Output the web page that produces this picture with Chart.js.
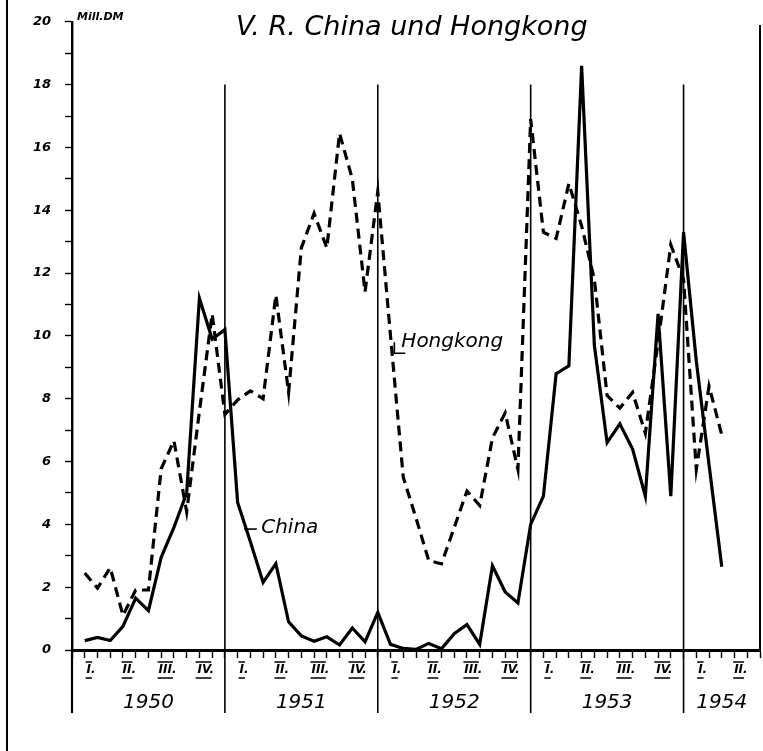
<!DOCTYPE html>
<html>
<head>
<meta charset="utf-8">
<script src="https://cdn.jsdelivr.net/npm/chart.js@4.4.0/dist/chart.umd.min.js"></script>
<style>
  html, body { margin: 0; padding: 0; background: #fff; }
  #wrap { width: 763px; height: 751px; position: relative; }
</style>
</head>
<body>
<div id="wrap"><canvas id="chart"></canvas></div>
<script>
/* ==========================
   DATA (Mill. DM, monthly, Jan 1950 - Mar 1954)
========================== */
const years = ["1950", "1951", "1952", "1953", "1954"];
const quarters = ["I", "II", "III", "IV"];
const yTickLabels = [0, 2, 4, 6, 8, 10, 12, 14, 16, 18, 20];

const chinaValues = [
  0.3, 0.4, 0.3, 0.75, 1.65, 1.25, 2.95, 3.9, 5.0, 11.2, 9.9, 10.2,
  4.7, 3.45, 2.15, 2.75, 0.9, 0.45, 0.28, 0.42, 0.16, 0.7, 0.26, 1.2,
  0.18, 0.05, 0.02, 0.21, 0.04, 0.52, 0.81, 0.18, 2.68, 1.85, 1.5, 4.0,
  4.9, 8.8, 9.05, 18.6, 9.7, 6.6, 7.2, 6.4, 4.9, 10.7, 4.9, 13.3,
  9.2, 5.9, 2.65
];

const hongkongValues = [
  2.45, 1.97, 2.62, 1.1, 1.91, 1.91, 5.77, 6.66, 4.4, 7.6, 10.7, 7.5,
  7.96, 8.25, 8.0, 11.3, 8.2, 12.8, 13.9, 12.8, 16.45, 15.0, 11.4, 14.6,
  10.0, 5.5, 4.2, 2.85, 2.74, 3.9, 5.06, 4.6, 6.75, 7.55, 5.75, 16.9,
  13.3, 13.1, 14.85, 13.5, 11.8, 8.1, 7.7, 8.2, 6.9, 9.8, 12.9, 11.8,
  5.75, 8.4, 6.85
];

const MONTHS_SHOWN = 54;
const FONT = "'DejaVu Sans', sans-serif";

/* ==========================
   DECORATION PLUGIN
========================== */
const decor = {
  id: "decor",
  beforeDatasetsDraw(chart) {
    const ctx = chart.ctx, x = chart.scales.x, y = chart.scales.y;
    const top = y.getPixelForValue(18), bottom = chart.chartArea.bottom + 63;

    /* year separators */
    ctx.save();
    ctx.strokeStyle = "#000";
    ctx.lineWidth = 1.6;
    for (let m = 12; m < MONTHS_SHOWN; m += 12) {
      const px = x.getPixelForValue(m);
      ctx.beginPath();
      ctx.moveTo(px, top);
      ctx.lineTo(px, bottom);
      ctx.stroke();
    }
    /* y axis continues below the x axis */
    ctx.lineWidth = 2.2;
    ctx.beginPath();
    ctx.moveTo(chart.chartArea.left, chart.chartArea.bottom);
    ctx.lineTo(chart.chartArea.left, bottom);
    ctx.stroke();
    ctx.restore();
  },
  afterDraw(chart) {
    const ctx = chart.ctx, x = chart.scales.x, y = chart.scales.y;
    const area = chart.chartArea;
    ctx.save();
    ctx.fillStyle = "#000";
    ctx.strokeStyle = "#000";

    /* page borders */
    ctx.lineWidth = 2;
    ctx.beginPath();
    ctx.moveTo(7, 0); ctx.lineTo(7, 751);
    ctx.moveTo(760, 25); ctx.lineTo(760, area.bottom);
    ctx.stroke();

    /* title + unit */
    ctx.textBaseline = "middle";
    ctx.textAlign = "left";
    ctx.font = "italic 27px " + FONT;
    ctx.fillText("V. R. China und Hongkong", 236, 28);
    ctx.font = "italic bold 11px " + FONT;
    ctx.fillText("Mill.DM", 77, 17);

    /* quarter labels */
    ctx.font = "italic bold 12px " + FONT;
    ctx.textAlign = "center";
    ctx.lineWidth = 1.4;
    years.forEach((yr, yi) => {
      quarters.forEach((q, qi) => {
        const mid = yi * 12 + qi * 3 + 1.5;
        if (mid > MONTHS_SHOWN) return;
        const cx = x.getPixelForValue(mid);
        const cy = area.bottom + 20;
        const w = ctx.measureText(q).width;
        ctx.fillText(q + ".", cx, cy);
        const dot = ctx.measureText(".").width;
        const l = cx - (w + dot) / 2 - 1, r = l + w + 2;
        ctx.beginPath();
        ctx.moveTo(l, cy - 8); ctx.lineTo(r, cy - 8);
        ctx.moveTo(l, cy + 8); ctx.lineTo(r, cy + 8);
        ctx.stroke();
      });
    });

    /* year labels */
    ctx.font = "italic 20px " + FONT;
    years.forEach((yr, yi) => {
      const from = yi * 12, to = Math.min(from + 12, MONTHS_SHOWN);
      ctx.fillText(yr, x.getPixelForValue((from + to) / 2), area.bottom + 53);
    });

    /* series labels */
    ctx.font = "italic 20px " + FONT;
    ctx.textAlign = "left";
    ctx.lineWidth = 1.6;
    const chY = y.getPixelForValue(3.85);
    ctx.beginPath();
    ctx.moveTo(x.getPixelForValue(13.5), chY);
    ctx.lineTo(x.getPixelForValue(14.5), chY);
    ctx.stroke();
    ctx.fillText("China", x.getPixelForValue(14.85), chY - 1);

    const hkY = y.getPixelForValue(9.8);
    const hkX = x.getPixelForValue(25.3);
    ctx.beginPath();
    ctx.moveTo(hkX, hkY);
    ctx.lineTo(hkX, hkY + 11);
    ctx.lineTo(hkX + 11, hkY + 11);
    ctx.stroke();
    ctx.fillText("Hongkong", hkX + 7, hkY);

    ctx.restore();
  }
};

/* ==========================
   CHART
========================== */
const toPoints = arr => arr.map((v, i) => ({ x: i + 1, y: v }));

new Chart(document.getElementById("chart"), {
  type: "line",
  data: {
    datasets: [
      {
        label: "China",
        data: toPoints(chinaValues),
        borderColor: "#000",
        borderWidth: 3.2,
        pointRadius: 0,
        tension: 0,
        borderJoinStyle: "miter"
      },
      {
        label: "Hongkong",
        data: toPoints(hongkongValues),
        borderColor: "#000",
        borderWidth: 3.2,
        borderDash: [10, 6],
        pointRadius: 0,
        tension: 0,
        borderJoinStyle: "miter"
      }
    ]
  },
  options: {
    responsive: true,
    maintainAspectRatio: false,
    devicePixelRatio: 1,
    animation: false,
    layout: { padding: { top: 18, right: 3, left: 0, bottom: 0 } },
    plugins: { legend: { display: false }, tooltip: { enabled: false } },
    scales: {
      x: {
        type: "linear",
        min: 0,
        max: MONTHS_SHOWN,
        afterFit: s => { s.height = 101; },
        ticks: { stepSize: 1, autoSkip: false, display: false },
        grid: { drawOnChartArea: false, drawTicks: true, tickLength: 8, tickColor: "#000", tickWidth: 1.4 },
        border: { display: true, color: "#000", width: 3 }
      },
      y: {
        min: 0,
        max: 20,
        afterFit: s => { s.width = 72; },
        ticks: {
          stepSize: 1,
          autoSkip: false,
          padding: 14,
          color: "#000",
          font: { family: FONT, size: 13, style: "italic", weight: "bold" },
          callback: v => yTickLabels.includes(v) ? String(v) : ""
        },
        grid: { drawOnChartArea: false, drawTicks: true, tickLength: 7, tickColor: "#000", tickWidth: 1.4 },
        border: { display: true, color: "#000", width: 2.4 }
      }
    }
  },
  plugins: [decor]
});
</script>
</body>
</html>
